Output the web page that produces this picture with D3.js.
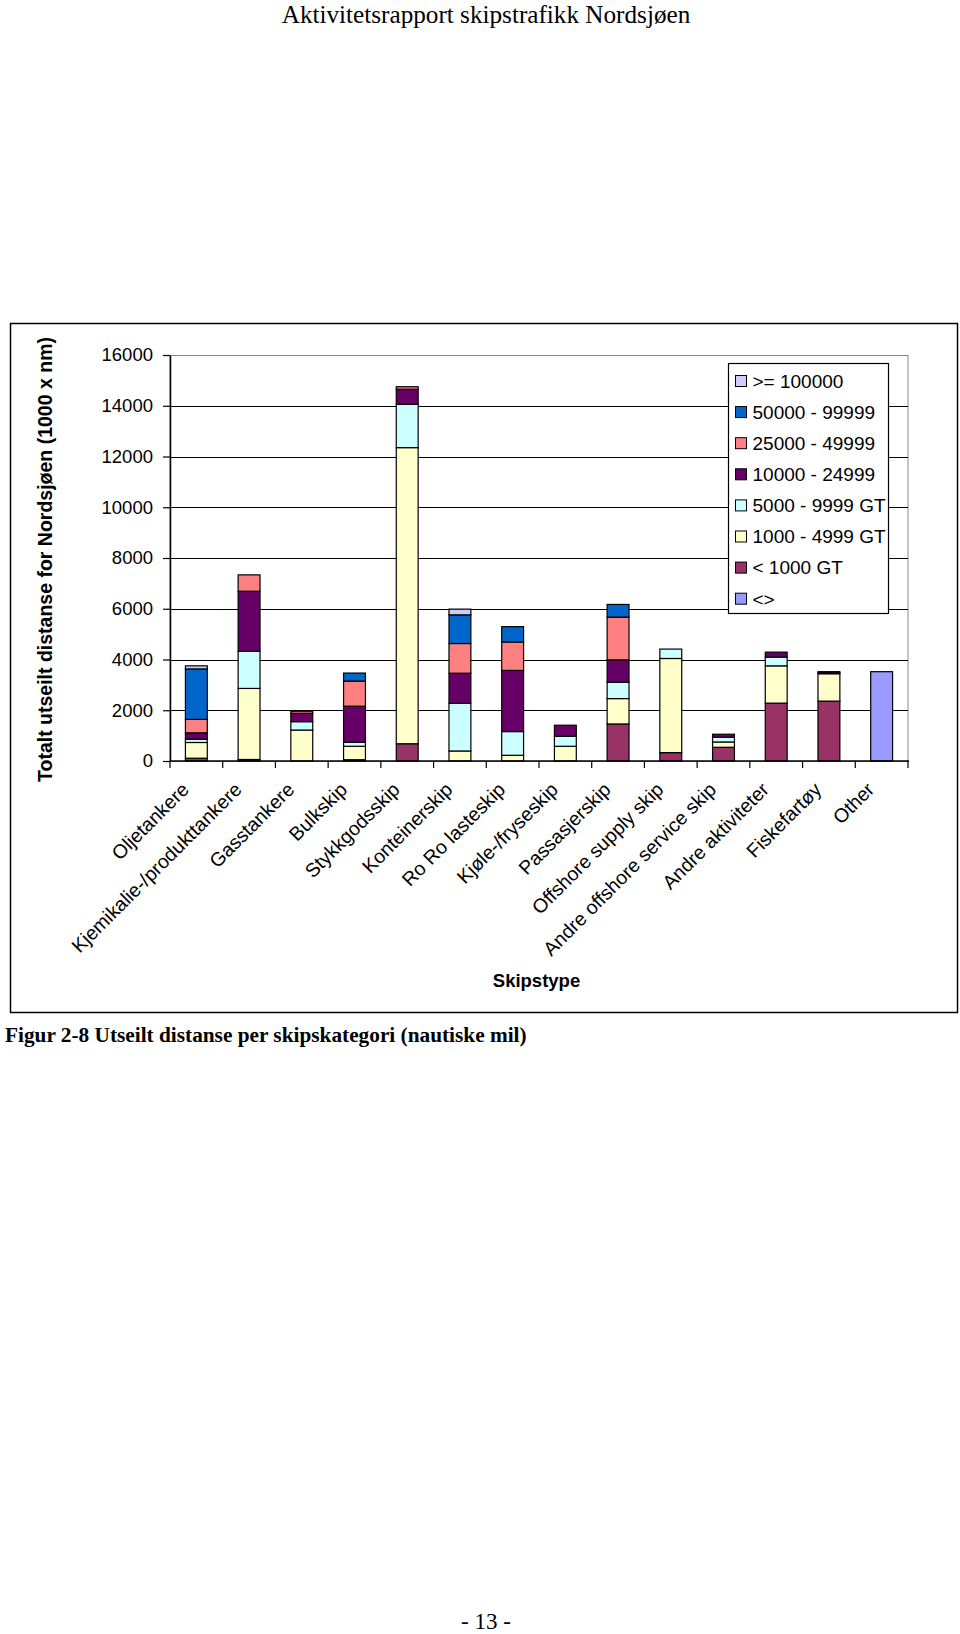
<!DOCTYPE html>
<html>
<head>
<meta charset="utf-8">
<script src="https://cdnjs.cloudflare.com/ajax/libs/d3/7.8.5/d3.min.js"></script>
<style>
  html, body { margin: 0; padding: 0; background: #fff; }
  svg { display: block; }
</style>
</head>
<body>
<svg id="page" width="960" height="1634"></svg>
<script>
// ---------- DATA ----------
const categories = [
  "Oljetankere", "Kjemikalie-/produkttankere", "Gasstankere", "Bulkskip",
  "Stykkgodsskip", "Konteinerskip", "Ro Ro lasteskip", "Kjøle-/fryseskip",
  "Passasjerskip", "Offshore supply skip", "Andre offshore service skip",
  "Andre aktiviteter", "Fiskefartøy", "Other"
];
// series listed bottom of stack first
const seriesNames = [
  "<>", "< 1000 GT", "1000 - 4999 GT", "5000 - 9999 GT",
  "10000 - 24999", "25000 - 49999", "50000 - 99999", ">= 100000"
];
const sUnknown   = [0, 0, 0, 0, 0, 0, 0, 0, 0, 0, 0, 0, 0, 3520];
const sLt1000    = [110, 60, 0, 50, 680, 0, 0, 0, 1460, 330, 540, 2280, 2360, 0];
const s1000_4999 = [620, 2800, 1220, 530, 11670, 395, 225, 580, 1000, 3710, 210, 1470, 1080, 0];
const s5000_9999 = [130, 1460, 330, 160, 1710, 1880, 935, 395, 645, 370, 185, 345, 25, 0];
const s10000_24999 = [250, 2370, 330, 1420, 590, 1185, 2410, 435, 880, 0, 120, 195, 55, 0];
const s25000_49999 = [530, 645, 80, 990, 100, 1170, 1120, 0, 1685, 0, 0, 0, 0, 0];
const s50000_99999 = [1990, 0, 0, 315, 0, 1130, 605, 0, 500, 0, 0, 0, 0, 0];
const sGe100000  = [120, 0, 0, 0, 0, 225, 0, 0, 0, 0, 0, 0, 0, 0];
const seriesValues = [sUnknown, sLt1000, s1000_4999, s5000_9999, s10000_24999, s25000_49999, s50000_99999, sGe100000];
const seriesColors = ["#9999FF", "#993366", "#FFFFCC", "#CCFFFF", "#660066", "#FF8080", "#0066CC", "#CCCCFF"];
const yTicks = [0, 2000, 4000, 6000, 8000, 10000, 12000, 14000, 16000];

const headerText = "Aktivitetsrapport skipstrafikk Nordsjøen";
const yTitle = "Totalt utseilt distanse for Nordsjøen (1000 x nm)";
const xTitle = "Skipstype";
const captionText = "Figur 2-8 Utseilt distanse per skipskategori (nautiske mil)";
const pageNumber = "- 13 -";

// ---------- LAYOUT ----------
const svg = d3.select("#page");
const sans = "'Liberation Sans', Arial, sans-serif";
const serif = "'Liberation Serif', 'Times New Roman', serif";
const plot = { left: 170, right: 908, top: 355, bottom: 761 };

svg.append("rect").attr("width", 960).attr("height", 1634).attr("fill", "#fff");

svg.append("text").attr("x", 486).attr("y", 23)
  .attr("text-anchor", "middle").attr("font-family", serif).attr("font-size", 25.2)
  .text(headerText);

// chart border
svg.append("rect").attr("x", 10.5).attr("y", 323.5).attr("width", 947).attr("height", 689)
  .attr("fill", "#fff").attr("stroke", "#000").attr("stroke-width", 1.5);

const x = d3.scaleBand().domain(categories).range([plot.left, plot.right])
  .paddingInner(0.585).paddingOuter(0.2925);
const y = d3.scaleLinear().domain([0, 16000]).range([plot.bottom, plot.top]);

// plot area border (grey)
svg.append("rect").attr("x", plot.left).attr("y", plot.top + 0.5)
  .attr("width", plot.right - plot.left).attr("height", plot.bottom - plot.top)
  .attr("fill", "none").attr("stroke", "#888").attr("stroke-width", 1);

// gridlines
svg.append("g").selectAll("line").data(yTicks.filter(t => t > 0 && t < 16000)).join("line")
  .attr("x1", plot.left).attr("x2", plot.right)
  .attr("y1", d => Math.round(y(d)) + 0.5).attr("y2", d => Math.round(y(d)) + 0.5)
  .attr("stroke", "#000").attr("stroke-width", 1.2);

// stacked bars
const rows = categories.map((c, i) => {
  const r = { cat: c };
  seriesNames.forEach((s, k) => r[s] = seriesValues[k][i]);
  return r;
});
const stacked = d3.stack().keys(seriesNames)(rows);
svg.append("g").selectAll("g").data(stacked).join("g")
  .attr("fill", (d, k) => seriesColors[k])
  .selectAll("rect").data(d => d.filter(p => p[1] - p[0] > 0)).join("rect")
  .attr("x", d => x(d.data.cat))
  .attr("width", x.bandwidth())
  .attr("y", d => y(d[1]))
  .attr("height", d => y(d[0]) - y(d[1]))
  .attr("stroke", "#000").attr("stroke-width", 1.2);

// y axis
const yAxis = svg.append("g").attr("transform", `translate(${plot.left},0)`)
  .call(d3.axisLeft(y).tickValues(yTicks).tickFormat(d3.format("d")).tickSize(7).tickPadding(10).tickSizeOuter(0));
yAxis.select(".domain").attr("stroke", "#000").attr("stroke-width", 1.5);
yAxis.selectAll(".tick line").attr("stroke", "#000").attr("stroke-width", 1.2);
yAxis.selectAll("text").attr("font-family", sans).attr("font-size", 18.5).attr("fill", "#000");

// x axis line and boundary ticks
svg.append("line").attr("x1", plot.left).attr("x2", plot.right + 1)
  .attr("y1", plot.bottom).attr("y2", plot.bottom).attr("stroke", "#000").attr("stroke-width", 1.5);
svg.append("g").selectAll("line").data(d3.range(categories.length + 1)).join("line")
  .attr("x1", i => plot.left + i * x.step()).attr("x2", i => plot.left + i * x.step())
  .attr("y1", plot.bottom).attr("y2", plot.bottom + 7)
  .attr("stroke", "#000").attr("stroke-width", 1.2);

// category labels
svg.append("g").selectAll("text").data(categories).join("text")
  .attr("transform", c => `translate(${x(c) + x.bandwidth() / 2 - 11},${plot.bottom + 25}) rotate(-45)`)
  .attr("text-anchor", "end").attr("dy", "0.35em")
  .attr("font-family", sans).attr("font-size", 19.5).attr("fill", "#000")
  .text(c => c);

// axis titles
svg.append("text").attr("transform", `translate(45,559.5) rotate(-90)`)
  .attr("text-anchor", "middle").attr("dy", "0.35em")
  .attr("font-family", sans).attr("font-weight", "bold").attr("font-size", 19.5)
  .text(yTitle);
svg.append("text").attr("x", 536.5).attr("y", 987)
  .attr("text-anchor", "middle").attr("font-family", sans).attr("font-weight", "bold").attr("font-size", 18.5)
  .text(xTitle);

// legend
const legend = svg.append("g");
legend.append("rect").attr("x", 728.5).attr("y", 363.5).attr("width", 160).attr("height", 250)
  .attr("fill", "#fff").attr("stroke", "#000").attr("stroke-width", 1.2);
const legendOrder = seriesNames.map((s, k) => k).reverse();
legend.selectAll("g.item").data(legendOrder).join("g").attr("class", "item")
  .attr("transform", (k, i) => `translate(735,${381 + i * 31.1})`)
  .each(function (k) {
    const g = d3.select(this);
    g.append("rect").attr("x", 0.5).attr("y", -5.5).attr("width", 11).attr("height", 11)
      .attr("fill", seriesColors[k]).attr("stroke", "#000").attr("stroke-width", 1);
    g.append("text").attr("x", 17.5).attr("y", 0).attr("dy", "0.36em")
      .attr("font-family", sans).attr("font-size", 19).attr("fill", "#000")
      .text(seriesNames[k]);
  });

// caption and page number
svg.append("text").attr("x", 5).attr("y", 1042)
  .attr("font-family", serif).attr("font-weight", "bold").attr("font-size", 21.3)
  .text(captionText);
svg.append("text").attr("x", 486).attr("y", 1629)
  .attr("text-anchor", "middle").attr("font-family", serif).attr("font-size", 23)
  .text(pageNumber);
</script>
</body>
</html>
